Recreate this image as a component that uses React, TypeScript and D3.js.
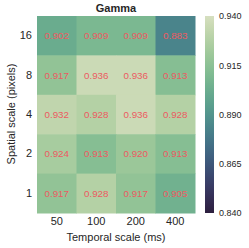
import React, { useEffect, useRef } from 'react';
import * as d3 from 'd3';

// chart data
const temporalScales = ['50', '100', '200', '400'];
const spatialScales = ['16', '8', '4', '2', '1'];
const gammaValues = [
  [0.902, 0.909, 0.909, 0.883],
  [0.917, 0.936, 0.936, 0.913],
  [0.932, 0.928, 0.936, 0.928],
  [0.924, 0.913, 0.920, 0.913],
  [0.917, 0.928, 0.917, 0.905],
];
const colorTicks = [0.84, 0.865, 0.89, 0.915, 0.94];

// matplotlib-style cubehelix (start=.5, rot=-.75, reversed, light .85 / dark .15)
const cubehelix = (t: number) => {
  const x = 0.15 + 0.7 * t;
  const a = (0.8 * x * (1 - x)) / 2;
  const phi = 2 * Math.PI * (0.5 / 3 - 0.75 * x);
  const c = Math.cos(phi);
  const s = Math.sin(phi);
  const r = x + a * (-0.14861 * c + 1.78277 * s);
  const g = x + a * (-0.29227 * c - 0.90649 * s);
  const b = x + a * (1.97294 * c);
  const clip = (v: number) => Math.round(255 * Math.max(0, Math.min(1, v)));
  return `rgb(${clip(r)},${clip(g)},${clip(b)})`;
};

const App = () => {
  const svgRef = useRef<SVGSVGElement>(null);

  useEffect(() => {
    const width = 249;
    const height = 248;
    const margin = { top: 16, right: 54, bottom: 35, left: 37 };
    const font = 'Liberation Sans, Arial, sans-serif';
    const textColor = '#262626';

    const svg = d3.select(svgRef.current);
    svg.selectAll('*').remove();
    svg.attr('width', width).attr('height', height).style('font-family', font);

    const x = d3.scaleBand().domain(temporalScales).range([margin.left, 195]);
    const y = d3.scaleBand().domain(spatialScales).range([margin.top, 213]);
    const color = d3.scaleSequential((t: number) => cubehelix(t)).domain([0.84, 0.94]);

    const cells = gammaValues.flatMap((row, i) =>
      row.map((v, j) => ({ row: spatialScales[i], col: temporalScales[j], v }))
    );

    // cells
    svg.append('g')
      .selectAll('rect')
      .data(cells)
      .enter()
      .append('rect')
      .attr('x', d => x(d.col)!)
      .attr('y', d => y(d.row)!)
      .attr('width', x.bandwidth() + 0.5)
      .attr('height', y.bandwidth() + 0.5)
      .attr('fill', d => color(d.v));

    // annotations
    svg.append('g')
      .selectAll('text')
      .data(cells)
      .enter()
      .append('text')
      .attr('x', d => x(d.col)! + x.bandwidth() / 2)
      .attr('y', d => y(d.row)! + y.bandwidth() / 2)
      .attr('text-anchor', 'middle')
      .attr('dominant-baseline', 'central')
      .attr('font-size', 9.8)
      .attr('fill', '#ec5a62')
      .text(d => d.v.toFixed(3));

    // x axis
    const xAxis = svg.append('g')
      .attr('transform', `translate(0, 213)`)
      .call(d3.axisBottom(x).tickSize(0).tickPadding(4));
    xAxis.select('.domain').remove();
    xAxis.selectAll('text')
      .attr('font-size', 11)
      .attr('font-family', font)
      .attr('fill', textColor);

    // y axis
    const yAxis = svg.append('g')
      .attr('transform', `translate(${margin.left}, 0)`)
      .call(d3.axisLeft(y).tickSize(0).tickPadding(5));
    yAxis.select('.domain').remove();
    yAxis.selectAll('text')
      .attr('font-size', 11)
      .attr('font-family', font)
      .attr('fill', textColor);

    // axis titles
    svg.append('text')
      .attr('x', 116)
      .attr('y', 241)
      .attr('text-anchor', 'middle')
      .attr('font-size', 11)
      .attr('fill', textColor)
      .text('Temporal scale (ms)');

    svg.append('text')
      .attr('transform', `translate(11, 114) rotate(-90)`)
      .attr('text-anchor', 'middle')
      .attr('dominant-baseline', 'central')
      .attr('font-size', 11)
      .attr('fill', textColor)
      .text('Spatial scale (pixels)');

    svg.append('text')
      .attr('x', 116)
      .attr('y', 12)
      .attr('text-anchor', 'middle')
      .attr('font-size', 11)
      .attr('font-weight', 'bold')
      .attr('fill', textColor)
      .text('Gamma');

    // colorbar
    const cbX = 205;
    const cbW = 9;
    const cbScale = d3.scaleLinear().domain([0.84, 0.94]).range([213, 16]);
    const defs = svg.append('defs');
    const grad = defs.append('linearGradient')
      .attr('id', 'cb-grad')
      .attr('x1', 0).attr('y1', 1).attr('x2', 0).attr('y2', 0);
    d3.range(0, 1.0001, 0.05).forEach(t => {
      grad.append('stop')
        .attr('offset', t)
        .attr('stop-color', cubehelix(t));
    });
    svg.append('rect')
      .attr('x', cbX)
      .attr('y', 16)
      .attr('width', cbW)
      .attr('height', 213 - 16)
      .attr('fill', 'url(#cb-grad)');

    const cbAxis = svg.append('g')
      .attr('transform', `translate(${cbX + cbW}, 0)`)
      .call(d3.axisRight(cbScale).tickValues(colorTicks).tickFormat(d3.format('.3f')).tickSize(0).tickPadding(5));
    cbAxis.select('.domain').remove();
    cbAxis.selectAll('text')
      .attr('font-size', 9)
      .attr('font-family', font)
      .attr('fill', textColor);
  }, []);

  return <svg ref={svgRef} style={{ position: 'absolute', left: 0, top: 0 }}></svg>;
};

export default App;
